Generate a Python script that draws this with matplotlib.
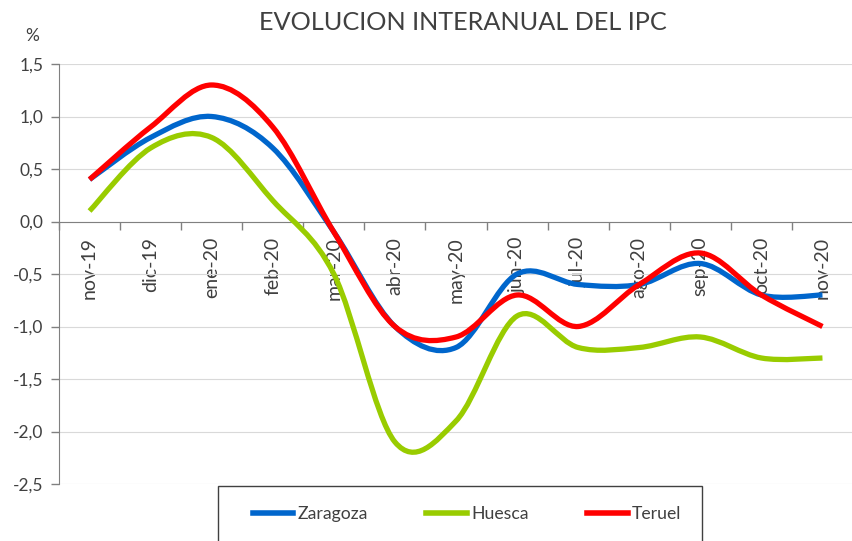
import numpy as np
import matplotlib
matplotlib.use('Agg')
import matplotlib.pyplot as plt
from matplotlib.path import Path
from matplotlib.patches import PathPatch, Rectangle
from matplotlib.lines import Line2D

plt.rcParams['font.family'] = ['Lato', 'DejaVu Sans']

meses = ['nov-19', 'dic-19', 'ene-20', 'feb-20', 'mar-20', 'abr-20', 'may-20',
         'jun-20', 'jul-20', 'ago-20', 'sep-20', 'oct-20', 'nov-20']
zaragoza = [0.4, 0.8, 1.0, 0.7, -0.1, -1.0, -1.2, -0.5, -0.6, -0.6, -0.4, -0.7, -0.7]
huesca = [0.1, 0.7, 0.8, 0.2, -0.5, -2.1, -1.9, -0.9, -1.2, -1.2, -1.1, -1.3, -1.3]
teruel = [0.4, 0.9, 1.3, 0.9, -0.1, -1.0, -1.1, -0.7, -1.0, -0.6, -0.3, -0.7, -1.0]
yticks = [1.5, 1.0, 0.5, 0.0, -0.5, -1.0, -1.5, -2.0, -2.5]

series = [('Zaragoza', zaragoza, '#0066CC'),
          ('Huesca', huesca, '#99CC00'),
          ('Teruel', teruel, '#FF0000')]

TXT = '#404040'


def smooth_path(y):
    # bezier curve through every point, like Excel's "smoothed line"
    pts = np.column_stack([np.arange(len(y)), y]).astype(float)
    ext = np.vstack([pts[0], pts, pts[-1]])
    verts = [pts[0]]
    codes = [Path.MOVETO]
    for i in range(len(pts) - 1):
        p0, p1, p2, p3 = ext[i], ext[i + 1], ext[i + 2], ext[i + 3]
        verts += [p1 + (p2 - p0) / 6., p2 - (p3 - p1) / 6., p2]
        codes += [Path.CURVE4] * 3
    return Path(verts, codes)


fig = plt.figure(figsize=(8.53, 5.41), dpi=100)
ax = fig.add_axes([59 / 853, 1 - 484 / 541, 1 - 59 / 853, (484 - 64) / 541])

for name, vals, col in series:
    ax.add_patch(PathPatch(smooth_path(vals), fill=False, edgecolor=col,
                           lw=3.8, capstyle='butt', joinstyle='round', zorder=3))

ax.set_xlim(-0.5, len(meses) - 0.5)
ax.set_ylim(-2.5, 1.5)

ax.set_yticks(yticks)
ax.set_yticklabels([f'{v:.1f}'.replace('.', ',') for v in yticks])
ax.grid(axis='y', color='#d9d9d9', lw=0.8, zorder=0)

ax.set_xticks(np.arange(len(meses)))
ax.set_xticklabels(meses)
ax.set_xticks(np.arange(len(meses) + 1) - 0.5, minor=True)
ax.tick_params(axis='x', which='major', length=0, pad=11, labelsize=14,
               labelcolor=TXT, labelrotation=90)
ax.tick_params(axis='x', which='minor', length=6, width=1, color='#808080')
ax.tick_params(axis='y', length=6, width=1, color='#808080', labelsize=12.5,
               labelcolor=TXT, pad=5)
for lab in ax.get_xticklabels():
    lab.set_verticalalignment('top')

for s in ['top', 'right']:
    ax.spines[s].set_visible(False)
ax.spines['bottom'].set_position(('data', 0))
ax.spines['bottom'].set_color('#808080')
ax.spines['left'].set_color('#808080')
ax.spines['bottom'].set_zorder(2)

fig.text(463 / 853, 1 - 22 / 541, 'EVOLUCION INTERANUAL DEL IPC', ha='center',
         va='center', fontsize=18.2, color=TXT)
fig.text(32 / 853, 1 - 36 / 541, '%', ha='center', va='center', fontsize=12.5, color=TXT)

# legend box runs off the bottom of the picture
fig.patches.append(Rectangle((218 / 853, -0.05), (702 - 218) / 853, 0.05 + 1 - 486 / 541,
                             transform=fig.transFigure, fill=False,
                             edgecolor='#404040', lw=1))
handles = [Line2D([], [], color=c, lw=4) for _, _, c in series]
fig.legend(handles, [n for n, _, _ in series], loc='center',
           bbox_to_anchor=(467 / 853, 1 - 514 / 541), ncol=3, frameon=False,
           fontsize=12.7, handlelength=2.3, handletextpad=0.25, columnspacing=3.3,
           labelcolor=TXT)

fig.savefig('out.png', dpi=100)
